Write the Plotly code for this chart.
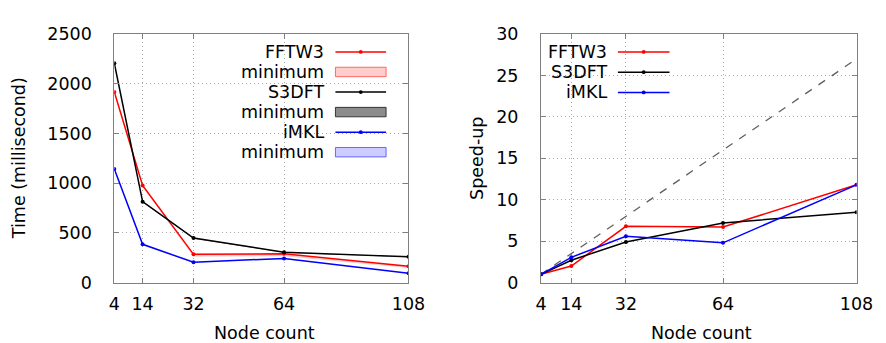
import plotly.graph_objects as go

nodes = [4, 14, 32, 64, 108]
node_labels = ["4", "14", "32", "64", "108"]

time_fftw3 = [1918, 977, 284, 290, 164]
time_fftw3_min = [1900, 958, 262, 266, 148]
time_s3dft = [2206, 814, 448, 306, 259]
time_s3dft_min = [2195, 806, 442, 300, 254]
time_imkl = [1143, 385, 205, 243, 95]
time_imkl_min = [1136, 379, 200, 238, 91]

speed_fftw3 = [1.0, 2.0, 6.8, 6.7, 11.8]
speed_s3dft = [1.0, 2.7, 4.9, 7.2, 8.5]
speed_imkl = [1.0, 3.05, 5.6, 4.8, 11.8]
speed_ideal = [1.0, 3.5, 8.0, 16.0, 27.0]

W, H = 886, 343
FONT = "DejaVu Sans"
FS = 17.5

def px(x):
    return x / W

def py(y):
    return (H - y) / H

fig = go.Figure()

series = [
    ("FFTW3", time_fftw3, time_fftw3_min, speed_fftw3, "#ff0000", "rgba(255,0,0,0.2)", "rgba(255,90,90,0.9)"),
    ("S3DFT", time_s3dft, time_s3dft_min, speed_s3dft, "#000000", "rgba(0,0,0,0.45)", "rgba(40,40,40,0.9)"),
    ("iMKL", time_imkl, time_imkl_min, speed_imkl, "#0000ff", "rgba(0,0,255,0.2)", "rgba(90,90,255,0.9)"),
]

for name, t, tmin, s, col, fillc, edge in series:
    fig.add_trace(go.Scatter(x=nodes, y=tmin, mode="lines", line=dict(width=0, color=fillc),
                             showlegend=False, hoverinfo="skip", xaxis="x", yaxis="y"))
    fig.add_trace(go.Scatter(x=nodes, y=t, mode="lines", line=dict(width=0, color=fillc),
                             fill="tonexty", fillcolor=fillc, showlegend=False, hoverinfo="skip",
                             xaxis="x", yaxis="y"))

for name, t, tmin, s, col, fillc, edge in series:
    fig.add_trace(go.Scatter(x=nodes, y=t, mode="lines+markers", name=name,
                             line=dict(color=col, width=1.5), marker=dict(color=col, size=4),
                             showlegend=False, xaxis="x", yaxis="y"))

fig.add_trace(go.Scatter(x=nodes, y=speed_ideal, mode="lines", line=dict(color="#606060", width=1.3, dash="8px,8px"),
                         showlegend=False, xaxis="x2", yaxis="y2"))
for name, t, tmin, s, col, fillc, edge in series:
    fig.add_trace(go.Scatter(x=nodes, y=s, mode="lines+markers", name=name,
                             line=dict(color=col, width=1.5), marker=dict(color=col, size=4),
                             showlegend=False, xaxis="x2", yaxis="y2"))

LX0, LX1 = 103, 405
RX0, RX1 = 541, 865
YT, YB = 17, 281

axis_common = dict(
    showline=True, linecolor="#808080", linewidth=1, mirror="ticks",
    ticks="inside", ticklen=5, tickcolor="#808080", tickwidth=1,
    showgrid=True, gridcolor="#a8a8a8", griddash="1px,3px", gridwidth=1,
    zeroline=False, tickfont=dict(family=FONT, size=FS, color="#000000"),
)

fig.update_layout(
    width=W, height=H, margin=dict(l=0, r=0, t=0, b=0),
    paper_bgcolor="white", plot_bgcolor="white", showlegend=False,
    xaxis=dict(domain=[px(LX0), px(LX1)], range=[4, 108], tickvals=nodes, ticktext=node_labels,
               ticklabelstandoff=5, anchor="y", **axis_common),
    yaxis=dict(domain=[py(YB), py(YT)], range=[0, 2500], dtick=500, ticklabelstandoff=18,
               anchor="x", **axis_common),
    xaxis2=dict(domain=[px(RX0), px(RX1)], range=[4, 108], tickvals=nodes, ticktext=node_labels,
                ticklabelstandoff=5, anchor="y2", **axis_common),
    yaxis2=dict(domain=[py(YB), py(YT)], range=[0, 30], dtick=5, ticklabelstandoff=18,
                anchor="x2", **axis_common),
)

shapes = []
annots = []

tf = dict(family=FONT, size=FS, color="#000000")
annots.append(dict(text="Node count", x=px((LX0 + LX1) / 2 + 3), y=py(335), xref="paper", yref="paper",
                   showarrow=False, font=tf, xanchor="center", yanchor="middle"))
annots.append(dict(text="Node count", x=px((RX0 + RX1) / 2 + 3), y=py(335), xref="paper", yref="paper",
                   showarrow=False, font=tf, xanchor="center", yanchor="middle"))
annots.append(dict(text="Time (millisecond)", x=px(5), y=py(149), xref="paper", yref="paper",
                   showarrow=False, font=tf, textangle=-90, xanchor="center", yanchor="middle"))
annots.append(dict(text="Speed-up", x=px(476), y=py(149), xref="paper", yref="paper",
                   showarrow=False, font=tf, textangle=-90, xanchor="center", yanchor="middle"))

shapes.append(dict(type="rect", xref="paper", yref="paper", x0=px(235), x1=px(LX1 - 1), y0=py(153), y1=py(YT + 1),
                   fillcolor="white", line=dict(width=0), layer="between"))
shapes.append(dict(type="rect", xref="paper", yref="paper", x0=px(RX0 + 5), x1=px(683), y0=py(88), y1=py(YT + 1),
                   fillcolor="white", line=dict(width=0), layer="between"))

def legend_line(xt, x0, x1, y, name, col):
    annots.append(dict(text=name, x=px(xt), y=py(y), xref="paper", yref="paper", showarrow=False,
                       font=tf, xanchor="right", yanchor="middle"))
    shapes.append(dict(type="line", xref="paper", yref="paper", x0=px(x0), x1=px(x1), y0=py(y), y1=py(y),
                       line=dict(color=col, width=1.5), layer="above"))
    xm = (x0 + x1) / 2
    shapes.append(dict(type="circle", xref="paper", yref="paper", x0=px(xm - 2), x1=px(xm + 2),
                       y0=py(y + 2), y1=py(y - 2), fillcolor=col, line=dict(width=0), layer="above"))

def legend_rect(xt, x0, x1, y, name, fillc, edge):
    annots.append(dict(text=name, x=px(xt), y=py(y), xref="paper", yref="paper", showarrow=False,
                       font=tf, xanchor="right", yanchor="middle"))
    shapes.append(dict(type="rect", xref="paper", yref="paper", x0=px(x0), x1=px(x1), y0=py(y + 5), y1=py(y - 5),
                       fillcolor=fillc, line=dict(color=edge, width=1), layer="above"))

rows_left = [36, 57.3, 78.6, 99.9, 121.2, 142.5]
for i, (name, t, tmin, s, col, fillc, edge) in enumerate(series):
    legend_line(320, 330, 382, rows_left[2 * i], name, col)
    legend_rect(320, 330, 382, rows_left[2 * i + 1], "minimum", fillc, edge)

rows_right = [36, 57.5, 79]
for i, (name, t, tmin, s, col, fillc, edge) in enumerate(series):
    legend_line(611, 620, 673, rows_right[i], name, col)

fig.update_layout(shapes=shapes, annotations=annots)
fig.write_html("out.html")
